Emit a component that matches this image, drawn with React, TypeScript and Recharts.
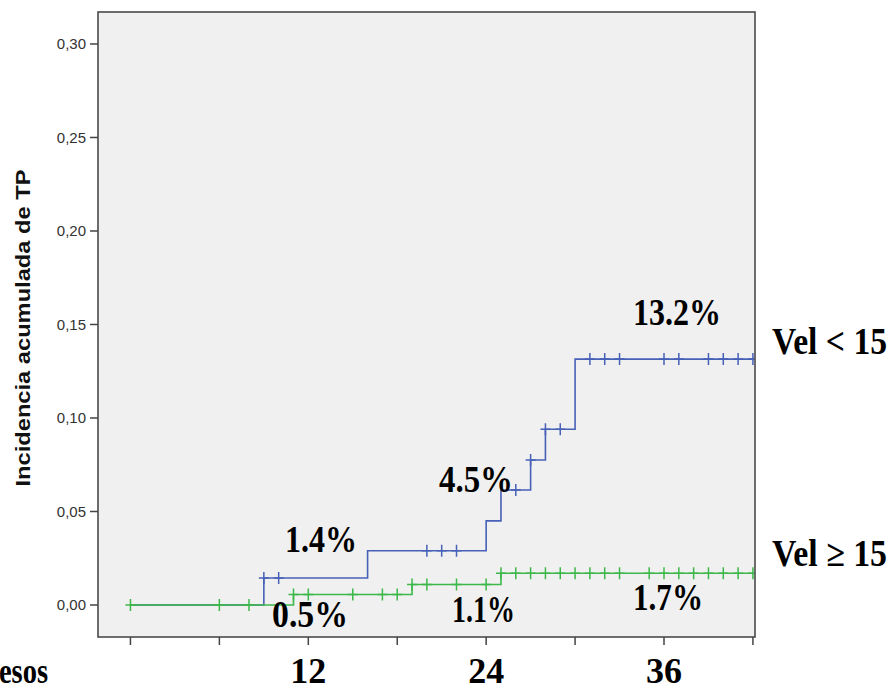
import { CartesianGrid, ComposedChart, Line, XAxis, YAxis } from 'recharts'

// Kaplan-Meier style cumulative incidence, two groups
const monthTicks = [0, 6, 12, 18, 24, 30, 36, 42]
const labelledMonths = [12, 24, 36]
const incidenceTicks = [0, 0.05, 0.1, 0.15, 0.2, 0.25, 0.3]

const velLowStepTimes = [0, 9, 16, 24, 25, 27, 28, 30]
const velLowStepValues = [0, 0.0144, 0.029, 0.045, 0.0615, 0.0775, 0.094, 0.1315]
const velLowCensorTimes = [9, 10, 20, 21, 22, 26, 27, 28, 29, 31, 32, 33, 36, 37, 39, 40, 41, 42]

const velHighStepTimes = [0, 11, 19, 25]
const velHighStepValues = [0, 0.0056, 0.011, 0.017]
const velHighCensorTimes = [
  0, 6, 8, 11, 12, 15, 17, 18, 19, 20, 22, 24, 25, 26, 27, 28, 29, 30, 31, 32, 33, 35, 36, 37, 38, 39, 40, 41, 42,
]

type Pt = { t: number; v: number; censored: boolean }

const buildSeries = (stepTimes: number[], stepValues: number[], censorTimes: number[]): Pt[] => {
  const pts: Pt[] = stepTimes.map((t, i) => ({ t, v: stepValues[i], censored: false }))
  censorTimes.forEach((t) => {
    let idx = 0
    stepTimes.forEach((s, i) => {
      if (s <= t) idx = i
    })
    pts.push({ t, v: stepValues[idx], censored: true })
  })
  return pts.sort((a, b) => a.t - b.t || Number(a.censored) - Number(b.censored))
}

const velLow = buildSeries(velLowStepTimes, velLowStepValues, velLowCensorTimes)
const velHigh = buildSeries(velHighStepTimes, velHighStepValues, velHighCensorTimes)

const BLUE = '#4760b8'
const GREEN = '#3cb84a'
const SERIF = '"Liberation Serif", "Times New Roman", serif'
const SANS = '"Liberation Sans", Arial, sans-serif'

const censorMark = (color: string) => (props: any) => {
  const { cx, cy, payload, index } = props
  if (!payload || !payload.censored) return <g key={`n-${index}`} />
  return (
    <path
      key={`c-${index}`}
      d={`M${cx - 5},${cy}h10M${cx},${cy - 6}v12`}
      stroke={color}
      strokeWidth={1.5}
      fill="none"
    />
  )
}

const MonthTick = (props: any) => {
  const { x, payload } = props
  if (!labelledMonths.includes(payload.value)) return <g />
  return (
    <text x={x} y={683} textAnchor="middle" fontFamily={SERIF} fontWeight="bold" fontSize={36} fill="#000">
      {payload.value}
    </text>
  )
}

const Big = ({ x, y, w, children }: { x: number; y: number; w: number; children: any }) => (
  <text
    x={x}
    y={y}
    fontFamily={SERIF}
    fontWeight="bold"
    fontSize={37}
    fill="#000"
    textLength={w}
    lengthAdjust="spacingAndGlyphs"
  >
    {children}
  </text>
)

export default function App() {
  return (
    <div style={{ position: 'absolute', left: 0, top: 0, width: 894, height: 691, background: '#fff' }}>
      <ComposedChart width={894} height={691} margin={{ top: 12, right: 139, bottom: 0, left: 0 }}>
        <CartesianGrid fill="#f0f0f0" horizontal={false} vertical={false} />
        <XAxis
          type="number"
          dataKey="t"
          domain={[-2.19, 42.14]}
          allowDataOverflow
          ticks={monthTicks}
          height={54}
          tickSize={8}
          axisLine={false}
          tickLine={{ stroke: '#444', strokeWidth: 1.5 }}
          tick={<MonthTick />}
        />
        <YAxis
          type="number"
          domain={[-0.01711, 0.3171]}
          allowDataOverflow
          ticks={incidenceTicks}
          width={98}
          tickSize={8}
          tickMargin={4}
          axisLine={false}
          tickLine={{ stroke: '#444', strokeWidth: 1.5 }}
          tickFormatter={(v: number) => v.toFixed(2).replace('.', ',')}
          tick={{ fontFamily: SANS, fontSize: 15, fill: '#333' }}
        />
        <Line
          data={velLow}
          dataKey="v"
          type="stepAfter"
          stroke={BLUE}
          strokeWidth={1.6}
          dot={censorMark(BLUE)}
          activeDot={false}
          isAnimationActive={false}
        />
        <Line
          data={velHigh}
          dataKey="v"
          type="stepAfter"
          stroke={GREEN}
          strokeWidth={1.6}
          dot={censorMark(GREEN)}
          activeDot={false}
          isAnimationActive={false}
        />
      </ComposedChart>
      <svg
        width={894}
        height={691}
        style={{ position: 'absolute', left: 0, top: 0, pointerEvents: 'none' }}
      >
        <rect x={98} y={12} width={657} height={625} fill="none" stroke="#4a4a4a" strokeWidth={1.6} />
        <text
          transform="translate(30,328) rotate(-90)"
          textAnchor="middle"
          fontFamily={SANS}
          fontWeight="bold"
          fontSize={21}
          fill="#111"
          textLength={317}
          lengthAdjust="spacingAndGlyphs"
        >
          Incidencia acumulada de TP
        </text>
        <text
          x={-28}
          y={683}
          fontFamily={SERIF}
          fontWeight="bold"
          fontSize={36}
          fill="#000"
          textLength={76}
          lengthAdjust="spacingAndGlyphs"
        >
          Mesos
        </text>
        <Big x={633} y={325} w={88}>13.2%</Big>
        <Big x={439} y={492} w={74}>4.5%</Big>
        <Big x={285} y={552} w={72}>1.4%</Big>
        <Big x={272} y={627} w={76}>0.5%</Big>
        <Big x={452} y={622} w={63}>1.1%</Big>
        <Big x={633} y={610} w={70}>1.7%</Big>
        <Big x={772} y={354} w={115}>Vel &lt; 15</Big>
        <Big x={772} y={566} w={115}>Vel ≥ 15</Big>
      </svg>
    </div>
  )
}
